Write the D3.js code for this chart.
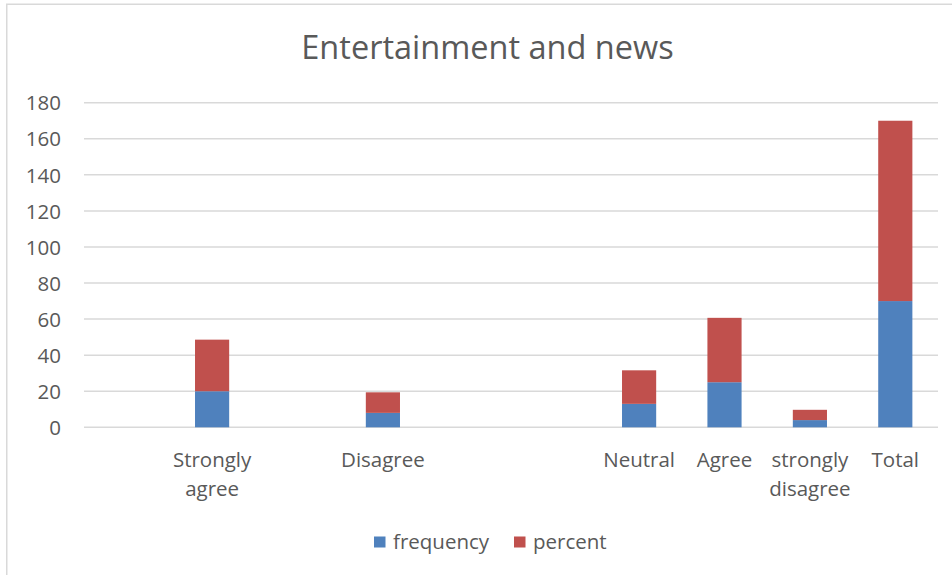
<!DOCTYPE html>
<html>
<head>
<meta charset="utf-8">
<script src="https://cdn.jsdelivr.net/npm/d3@7/dist/d3.min.js"></script>
<style>
  html, body { margin: 0; padding: 0; background: #fff; }
  svg { display: block; }
  text { font-family: "Open Sans", sans-serif; fill: #595959; }
</style>
</head>
<body>
<svg id="chart" width="952" height="575"></svg>
<script>
// Response categories (blank slots keep the original spacing on the axis)
const categories = ["", "Strongly agree", "", "Disagree", "", "", "Neutral", "Agree", "strongly disagree", "Total"];
const frequency = [0, 20, 0, 8, 0, 0, 13, 25, 4, 70];
const percent = [0, 28.6, 0, 11.4, 0, 0, 18.6, 35.7, 5.7, 100];
const seriesNames = ["frequency", "percent"];
const seriesColors = ["#4f81bd", "#c0504d"];
const yTicks = [0, 20, 40, 60, 80, 100, 120, 140, 160, 180];
const title = "Entertainment and news";

const FONT = "'Open Sans', sans-serif";
const LABEL_SIZE = "20.5px";
const svg = d3.select("#chart");
const W = 952, H = 575;
const plot = { left: 84, right: 938, top: 102.7, bottom: 427.3 };

// Chart frame
svg.append("rect")
  .attr("x", 6.75).attr("y", 4.25)
  .attr("width", W + 10).attr("height", H + 10)
  .attr("fill", "#fff").attr("stroke", "#d9d9d9").attr("stroke-width", 1.5);

// Title
svg.append("text")
  .attr("x", 487.5).attr("y", 59)
  .attr("text-anchor", "middle")
  .style("font-size", "32.5px")
  .text(title);

const idx = categories.map((d, i) => i);
const x = d3.scaleBand().domain(idx).range([plot.left, plot.right])
  .paddingInner(0.6).paddingOuter(0.3);
const y = d3.scaleLinear().domain([0, 180]).range([plot.bottom, plot.top]);

// Gridlines
svg.append("g").selectAll("line").data(yTicks).join("line")
  .attr("x1", plot.left).attr("x2", plot.right)
  .attr("y1", d => y(d)).attr("y2", d => y(d))
  .attr("stroke", "#d9d9d9").attr("stroke-width", 1.5);

// Y axis labels
const yAxis = d3.axisLeft(y).tickValues(yTicks).tickSize(0).tickPadding(0);
const gy = svg.append("g").attr("transform", "translate(61,0)").call(yAxis);
gy.select(".domain").remove();
gy.selectAll("text").style("font-size", LABEL_SIZE).style("font-family", FONT)
  .attr("fill", "#595959").attr("dy", "0.35em");

// Stacked bars
const rows = categories.map((c, i) => ({ i, frequency: frequency[i], percent: percent[i] }));
const stacked = d3.stack().keys(seriesNames)(rows);
svg.append("g").selectAll("g").data(stacked).join("g")
  .attr("fill", (d, k) => seriesColors[k])
  .selectAll("rect").data(d => d).join("rect")
  .attr("x", d => x(d.data.i))
  .attr("width", x.bandwidth())
  .attr("y", d => y(d[1]))
  .attr("height", d => y(d[0]) - y(d[1]));

// X axis labels, wrapped to the category width
const xAxis = d3.axisBottom(x).tickSize(0).tickPadding(0).tickFormat(i => categories[i]);
const gx = svg.append("g").attr("transform", "translate(0,467)").call(xAxis);
gx.select(".domain").remove();
gx.selectAll("text")
  .style("font-size", LABEL_SIZE).style("font-family", FONT)
  .attr("fill", "#595959").attr("dy", 0).attr("y", 0)
  .each(function(i) {
    const t = d3.select(this);
    const label = categories[i];
    t.text(label);
    if (this.getComputedTextLength() > x.step()) {
      const words = label.split(" ");
      t.text(null);
      words.forEach((w, k) => {
        t.append("tspan").attr("x", 0).attr("dy", k === 0 ? 0 : 28.5).text(w);
      });
    }
  });

// Legend
const legend = svg.append("g");
const legendX = [374, 514];
seriesNames.forEach((name, k) => {
  legend.append("rect")
    .attr("x", legendX[k]).attr("y", 536.5)
    .attr("width", 11.5).attr("height", 11)
    .attr("fill", seriesColors[k]);
  legend.append("text")
    .attr("x", legendX[k] + 19).attr("y", 548.5)
    .style("font-size", LABEL_SIZE)
    .text(name);
});
</script>
</body>
</html>
